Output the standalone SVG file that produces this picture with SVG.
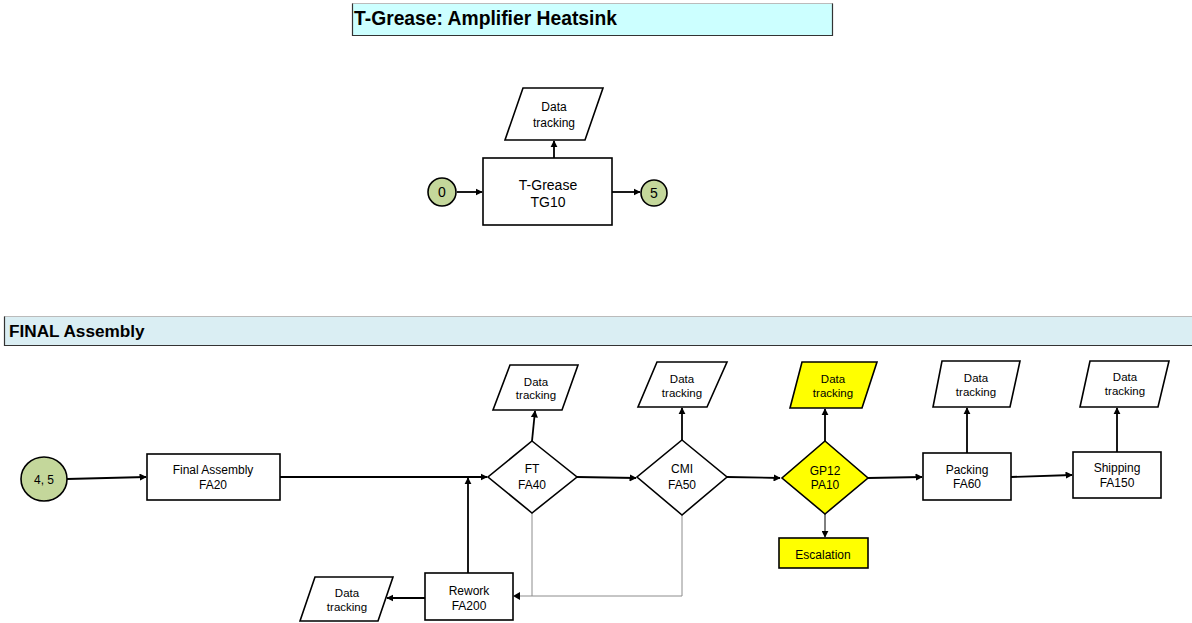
<svg xmlns="http://www.w3.org/2000/svg" width="1192" height="623" viewBox="0 0 1192 623">
<defs>
<marker id="ah" viewBox="0 0 10 10" refX="9" refY="5" markerWidth="4" markerHeight="4" orient="auto" markerUnits="strokeWidth"><path d="M0,0 L10,5 L0,10 z" fill="#000"/></marker>
<marker id="ahs" viewBox="0 0 10 10" refX="9" refY="5" markerWidth="7" markerHeight="7" orient="auto" markerUnits="strokeWidth"><path d="M0,0 L10,5 L0,10 z" fill="#000"/></marker>
<style>
text{font-family:"Liberation Sans",Arial,sans-serif;fill:#000}
.t{font-size:12px;text-anchor:middle}
.d{font-size:11.5px;text-anchor:middle}
.big{font-size:14px;text-anchor:middle}
.h1{font-size:19.3px;font-weight:bold}
.h2{font-size:17.2px;font-weight:bold}
.box{fill:#fff;stroke:#000;stroke-width:1.6}
.yel{fill:#ffff00;stroke:#000;stroke-width:1.6}
.circ{fill:#c4d79b;stroke:#000;stroke-width:1.6}
.c{fill:none;stroke:#000;stroke-width:1.8;marker-end:url(#ah)}
.cg{fill:none;stroke:#8c8c8c;stroke-width:1}
.cgs{fill:none;stroke:#000;stroke-width:1;marker-end:url(#ahs)}
</style>
</defs>
<rect width="1192" height="623" fill="#fff"/>
<g id="title1">
<rect x="352.5" y="3.5" width="480" height="32" fill="#ccffff" stroke="#bbbbbb" stroke-width="1"/>
<path d="M352.5,3.5 V35.5 H832.5 V3.5" fill="none" stroke="#333" stroke-width="1.2"/>
<text x="354" y="25" class="h1">T-Grease: Amplifier Heatsink</text>
</g>
<g id="title2">
<rect x="4.5" y="316.5" width="1190" height="29" fill="#daeef3" stroke="#bbbbbb" stroke-width="1"/>
<path d="M4.5,316.5 V345.5 H1192" fill="none" stroke="#333" stroke-width="1.2"/>
<text x="9" y="337" class="h2">FINAL Assembly</text>
</g>
<g id="connectors">
<path class="c" d="M457,192 H482"/>
<path class="c" d="M612,192 H640"/>
<path class="c" d="M554,158 V141"/>
<path class="c" d="M67,479 L146,477"/>
<path class="c" d="M280,477 H487"/>
<path class="c" d="M468,573 V478"/>
<path class="c" d="M532,441 L535,411"/>
<path class="c" d="M577,477 L636,478"/>
<path class="c" d="M682,440 V408"/>
<path class="c" d="M727,477 L780,478"/>
<path class="c" d="M825,441 V409"/>
<path class="cgs" d="M825,514 V537"/>
<path class="c" d="M868,478 L922,477"/>
<path class="c" d="M967,453 V408"/>
<path class="c" d="M1011,477 L1072,475"/>
<path class="c" d="M1117,452 V408"/>
<path class="c" d="M425,598 H387"/>
<path class="cg" d="M532,513 V596"/>
<path class="cg" d="M682,515 V596 H518"/>
<path d="M513,596 L520,592 L520,600 z" fill="#000"/>
</g>
<g id="n0"><circle class="circ" cx="442" cy="192" r="14"/><text x="442" y="197" class="big">0</text></g>
<g id="n5"><circle class="circ" cx="654" cy="193" r="13"/><text x="654" y="198" class="big">5</text></g>
<g id="tg10"><rect class="box" x="483" y="158" width="129" height="67"/><text x="548" y="190" class="big">T-Grease</text><text x="548" y="207" class="big">TG10</text></g>
<g id="dt0"><polygon class="box" points="523,88 603,88 585,140 505,140"/><text x="554" y="111" class="t">Data</text><text x="554" y="127" class="t">tracking</text></g>
<g id="n45"><ellipse class="circ" cx="44" cy="479" rx="23" ry="22"/><text x="44" y="484" class="t">4, 5</text></g>
<g id="fa20"><rect class="box" x="147" y="454" width="133" height="46"/><text x="213" y="474" class="t">Final Assembly</text><text x="213" y="489" class="t">FA20</text></g>
<g id="fa40"><polygon class="box" points="532,441 577,477 532,513 488,477"/><text x="532" y="473" class="t">FT</text><text x="532" y="489" class="t">FA40</text></g>
<g id="dt40"><polygon class="box" points="510,365 578,365 562,410 493,410"/><text x="536" y="386" class="d">Data</text><text x="536" y="399" class="d">tracking</text></g>
<g id="fa50"><polygon class="box" points="682,440 727,477 682,515 637,477"/><text x="682" y="473" class="t">CMI</text><text x="682" y="489" class="t">FA50</text></g>
<g id="dt50"><polygon class="box" points="657,362 727,362 707,407 638,407"/><text x="682" y="383" class="d">Data</text><text x="682" y="397" class="d">tracking</text></g>
<g id="pa10"><polygon class="yel" points="825,441 868,478 825,514 782,478"/><text x="825" y="475" class="t">GP12</text><text x="825" y="489" class="t">PA10</text></g>
<g id="dtpa"><polygon class="yel" points="802,362 877,362 862,408 790,408"/><text x="833" y="383" class="d">Data</text><text x="833" y="397" class="d">tracking</text></g>
<g id="esc"><rect class="yel" x="779" y="538" width="89" height="30"/><text x="823" y="559" class="t">Escalation</text></g>
<g id="fa60"><rect class="box" x="923" y="453" width="88" height="47"/><text x="967" y="474" class="t">Packing</text><text x="967" y="488" class="t">FA60</text></g>
<g id="dt60"><polygon class="box" points="942,361 1020,361 1010,407 933,407"/><text x="976" y="382" class="d">Data</text><text x="976" y="396" class="d">tracking</text></g>
<g id="fa150"><rect class="box" x="1073" y="452" width="88" height="46"/><text x="1117" y="472" class="t">Shipping</text><text x="1117" y="487" class="t">FA150</text></g>
<g id="dt150"><polygon class="box" points="1090,361 1169,361 1158,407 1080,407"/><text x="1125" y="381" class="d">Data</text><text x="1125" y="395" class="d">tracking</text></g>
<g id="fa200"><rect class="box" x="425" y="573" width="88" height="47"/><text x="469" y="595" class="t">Rework</text><text x="469" y="610" class="t">FA200</text></g>
<g id="dt200"><polygon class="box" points="315,577 393,577 378,621 300,621"/><text x="347" y="597" class="d">Data</text><text x="347" y="611" class="d">tracking</text></g>
</svg>
